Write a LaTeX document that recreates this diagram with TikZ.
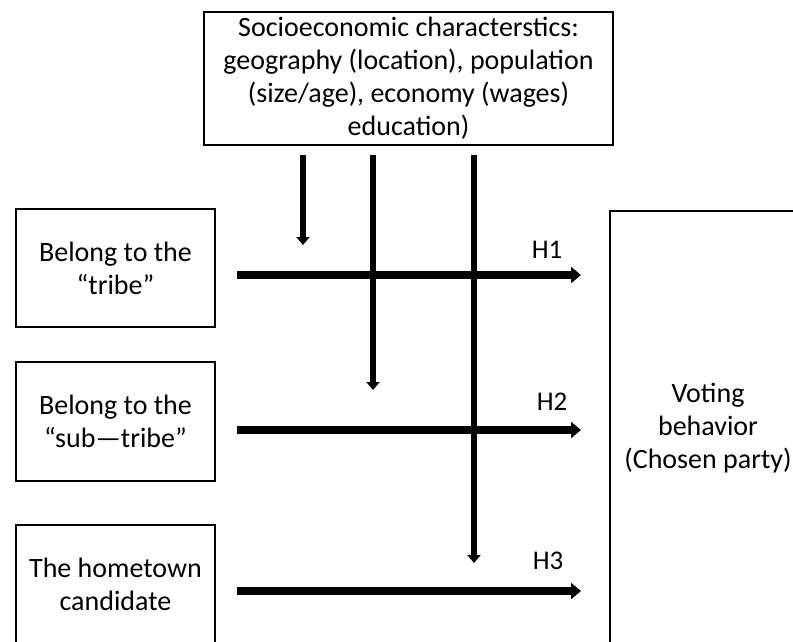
\documentclass[tikz,border=0pt]{standalone}
\usepackage{fontspec}
\setmainfont{Carlito}
\usetikzlibrary{arrows.meta}
\begin{document}
\begin{tikzpicture}[x=1pt,y=-1pt,
  box/.style={draw, line width=2pt, align=center, inner sep=0pt,
    font=\fontsize{28}{33}\selectfont},
  harrow/.style={line width=7.5pt, -{Triangle[width=16pt,length=10pt]}},
  varrow/.style={line width=5.5pt, -{Triangle[width=13pt,length=8pt]}},
  hlab/.style={font=\fontsize{27}{30}\selectfont, inner sep=0pt}]
\useasboundingbox (0,0) rectangle (793,641);
\clip (0,0) rectangle (793,641);

\node[box, minimum width=409pt, minimum height=133pt] (socio) at (408.5,78.5)
  {Socioeconomic characterstics:\\geography (location), population\\(size/age), economy (wages)\\education)};

\node[box, minimum width=199pt, minimum height=118pt] (b1) at (115.5,268) {Belong to the\\“tribe”};
\node[box, minimum width=199pt, minimum height=119pt] (b2) at (115.5,421.5) {Belong to the\\“sub—tribe”};
\node[box, minimum width=199pt, minimum height=119pt] (b3) at (115.5,584.5) {The hometown\\candidate};

\node[box, minimum width=196pt, minimum height=434pt] (vote) at (708,428) {Voting\\behavior\\(Chosen party)};

% hypothesis arrows
\coordinate (a1) at ([yshift=-7pt]b1.east);
\coordinate (a2) at ([yshift=-8.5pt]b2.east);
\coordinate (a3) at ([yshift=-6.5pt]b3.east);
\draw[harrow, shorten <=21pt, shorten >=28pt] (a1) -- (a1 -| vote.west);
\draw[harrow, shorten <=21pt, shorten >=28pt] (a2) -- (a2 -| vote.west);
\draw[harrow, shorten <=21pt, shorten >=28pt] (a3) -- (a3 -| vote.west);

% moderating arrows
\coordinate (e1) at (303,245);
\coordinate (e2) at (373,390);
\coordinate (e3) at (474,563);
\draw[varrow, shorten <=9pt] (e1 |- socio.south) -- (e1);
\draw[varrow, shorten <=9pt] (e2 |- socio.south) -- (e2);
\draw[varrow, shorten <=9pt] (e3 |- socio.south) -- (e3);

\node[hlab] (h1) at (547,250) {H1};
\node[hlab] (h2) at (552,402) {H2};
\node[hlab] (h3) at (548,561) {H3};
\end{tikzpicture}
\end{document}
